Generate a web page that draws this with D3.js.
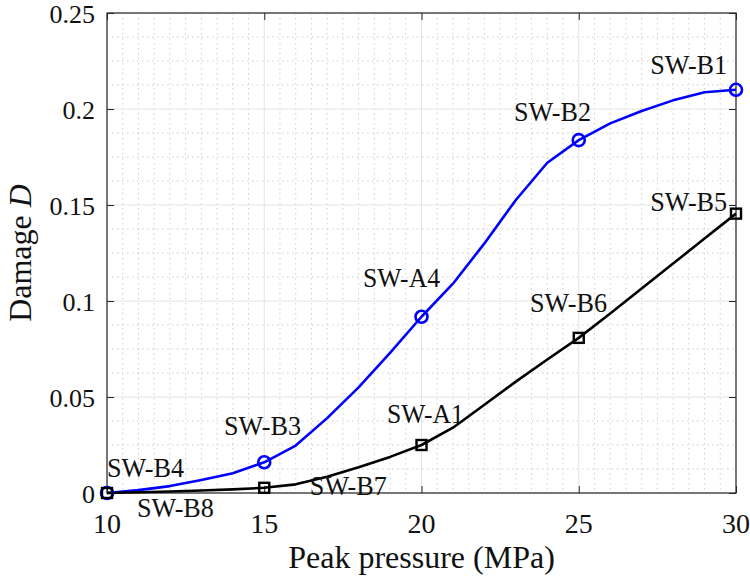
<!DOCTYPE html>
<html>
<head>
<meta charset="utf-8">
<script src="https://cdn.jsdelivr.net/npm/d3@7"></script>
<style>
  html, body { margin: 0; padding: 0; background: #fff; }
  svg { display: block; }
</style>
</head>
<body>
<svg id="chart" width="750" height="577"></svg>
<script>
// ---- data ----
const pressure = [10, 11, 12, 13, 14, 15, 16, 17, 18, 19, 20, 21, 22, 23, 24, 25, 26, 27, 28, 29, 30];
const damageBlue = [0, 0.0015, 0.0036, 0.0068, 0.0103, 0.016, 0.0247, 0.039, 0.0550, 0.073, 0.0918,
                    0.109, 0.130, 0.1526, 0.1720, 0.1838, 0.1925, 0.199, 0.2045, 0.2087, 0.2100];
const damageBlack = [0, 0.0004, 0.0008, 0.0013, 0.0019, 0.0027, 0.0045, 0.0085, 0.0134, 0.0188, 0.0250,
                     0.0340, 0.0460, 0.0580, 0.0695, 0.0808, 0.0935, 0.1065, 0.1195, 0.1325, 0.1455];
const markerPressure = [10, 15, 20, 25, 30];
const xTicks = [10, 15, 20, 25, 30];
const yTicks = [0, 0.05, 0.1, 0.15, 0.2, 0.25];
const yTickLabels = ["0", "0.05", "0.1", "0.15", "0.2", "0.25"];
// annotation text placed in data coordinates (left, baseline)
const labelNames = ["SW-B1", "SW-B2", "SW-A4", "SW-B3", "SW-B4", "SW-B8", "SW-B7", "SW-A1", "SW-B6", "SW-B5"];
const labelX = [27.27, 22.94, 18.14, 13.72, 10.0, 10.95, 16.45, 18.9, 23.45, 27.27];
const labelY = [0.2182, 0.1938, 0.1073, 0.0302, 0.0083, -0.0125, -0.001, 0.0365, 0.0943, 0.1469];

// ---- layout ----
const svg = d3.select("#chart");
const L = 107, R = 736, T = 13, B = 493;
const x = d3.scaleLinear().domain([10, 30]).range([L, R]);
const y = d3.scaleLinear().domain([0, 0.25]).range([B, T]);
const serif = "'Liberation Serif', 'DejaVu Serif', serif";

// minor grid (dotted)
const xMinor = d3.range(10, 30.001, 0.5).filter(v => Math.abs(v % 5) > 1e-6);
const yMinor = d3.range(0, 0.25001, 0.0125).filter(v => Math.abs((v / 0.05) - Math.round(v / 0.05)) > 1e-6);
const grid = svg.append("g");
grid.selectAll(".xm").data(xMinor).join("line")
  .attr("x1", d => x(d)).attr("x2", d => x(d)).attr("y1", T).attr("y2", B)
  .attr("stroke", "#cfcfcf").attr("stroke-width", 1).attr("stroke-dasharray", "1.5,3.5");
grid.selectAll(".ym").data(yMinor).join("line")
  .attr("y1", d => y(d)).attr("y2", d => y(d)).attr("x1", L).attr("x2", R)
  .attr("stroke", "#cfcfcf").attr("stroke-width", 1).attr("stroke-dasharray", "1.5,3.5");
// major grid (solid, light)
grid.selectAll(".xM").data(xTicks).join("line")
  .attr("x1", d => x(d)).attr("x2", d => x(d)).attr("y1", T).attr("y2", B)
  .attr("stroke", "#e3e3e3").attr("stroke-width", 1);
grid.selectAll(".yM").data(yTicks).join("line")
  .attr("y1", d => y(d)).attr("y2", d => y(d)).attr("x1", L).attr("x2", R)
  .attr("stroke", "#e3e3e3").attr("stroke-width", 1);

// axes (box with inward ticks)
const axisColor = "#262626";
function styleAxis(g) {
  g.select(".domain").remove();
  g.selectAll(".tick line").attr("stroke", axisColor).attr("stroke-width", 1);
}
svg.append("g").attr("transform", `translate(0,${B})`)
  .call(d3.axisBottom(x).tickValues(xTicks).tickSize(-7).tickFormat(""))
  .call(styleAxis);
svg.append("g").attr("transform", `translate(0,${T})`)
  .call(d3.axisTop(x).tickValues(xTicks).tickSize(-7).tickFormat(""))
  .call(styleAxis);
svg.append("g").attr("transform", `translate(${L},0)`)
  .call(d3.axisLeft(y).tickValues(yTicks).tickSize(-7).tickFormat(""))
  .call(styleAxis);
svg.append("g").attr("transform", `translate(${R},0)`)
  .call(d3.axisRight(y).tickValues(yTicks).tickSize(-7).tickFormat(""))
  .call(styleAxis);
svg.append("rect").attr("x", L).attr("y", T).attr("width", R - L).attr("height", B - T)
  .attr("fill", "none").attr("stroke", axisColor).attr("stroke-width", 1.2);

// tick labels
svg.append("g").selectAll("text").data(xTicks).join("text")
  .attr("x", d => x(d)).attr("y", B + 40)
  .attr("text-anchor", "middle").attr("font-family", serif).attr("font-size", 28)
  .attr("fill", "#111").text(d => d);
svg.append("g").selectAll("text").data(yTicks).join("text")
  .attr("x", L - 12).attr("y", d => y(d) + 10)
  .attr("text-anchor", "end").attr("font-family", serif).attr("font-size", 26)
  .attr("fill", "#111").text((d, i) => yTickLabels[i]);

// axis labels
svg.append("text").attr("x", (L + R) / 2).attr("y", 568)
  .attr("text-anchor", "middle").attr("font-family", serif).attr("font-size", 32)
  .attr("fill", "#111").text("Peak pressure (MPa)");
const yl = svg.append("text")
  .attr("transform", `translate(31,${(T + B) / 2}) rotate(-90)`)
  .attr("text-anchor", "middle").attr("font-family", serif).attr("font-size", 32).attr("fill", "#111");
yl.append("tspan").text("Damage ");
yl.append("tspan").attr("font-style", "italic").text("D");

// lines
const line = d3.line().x(d => x(d[0])).y(d => y(d[1]));
const blueData = pressure.map((p, i) => [p, damageBlue[i]]);
const blackData = pressure.map((p, i) => [p, damageBlack[i]]);
svg.append("path").datum(blueData).attr("d", line)
  .attr("fill", "none").attr("stroke", "#0000ff").attr("stroke-width", 2.6).attr("stroke-linejoin", "round");
svg.append("path").datum(blackData).attr("d", line)
  .attr("fill", "none").attr("stroke", "#000").attr("stroke-width", 2.6).attr("stroke-linejoin", "round");

// markers
const blueMarks = markerPressure.map(p => [p, damageBlue[pressure.indexOf(p)]]);
const blackMarks = markerPressure.map(p => [p, damageBlack[pressure.indexOf(p)]]);
svg.append("g").selectAll("circle").data(blueMarks).join("circle")
  .attr("cx", d => x(d[0])).attr("cy", d => y(d[1])).attr("r", 6)
  .attr("fill", "none").attr("stroke", "#0000ff").attr("stroke-width", 2.6);
svg.append("g").selectAll("rect").data(blackMarks).join("rect")
  .attr("x", d => x(d[0]) - 5).attr("y", d => y(d[1]) - 5).attr("width", 10).attr("height", 10)
  .attr("fill", "none").attr("stroke", "#000").attr("stroke-width", 2.4);

// annotations
svg.append("g").selectAll("text").data(labelNames).join("text")
  .attr("x", (d, i) => x(labelX[i])).attr("y", (d, i) => y(labelY[i]))
  .attr("font-family", serif).attr("font-size", 27).attr("fill", "#111")
  .attr("textLength", 77).attr("lengthAdjust", "spacingAndGlyphs")
  .text(d => d);
</script>
</body>
</html>
